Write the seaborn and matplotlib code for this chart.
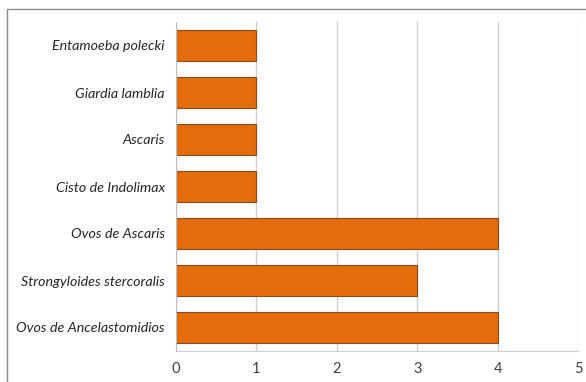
import matplotlib
matplotlib.use("Agg")
import matplotlib.pyplot as plt
import seaborn as sns
import numpy as np
from matplotlib.patches import Rectangle

# Parasitas encontrados (de cima para baixo)
categorias = ["Entamoeba polecki", "Giardia lamblia", "Ascaris", "Cisto de Indolimax",
              "Ovos de Ascaris", "Strongyloides stercoralis", "Ovos de Ancelastomidios"]
valores = [1, 1, 1, 1, 4, 3, 4]
ticks_x = [0, 1, 2, 3, 4, 5]

sns.set_style("white")
plt.rcParams['font.family'] = ['Lato', 'DejaVu Sans']

fig = plt.figure(figsize=(5.86, 3.82), dpi=100)
ax = fig.add_axes([176/586, 1 - 351/382, 402/586, 329/382])

sns.barplot(x=valores, y=categorias, orient='h', color='#E46C0A', saturation=1,
            edgecolor='#8A4A1A', linewidth=0.8, width=0.66, ax=ax)

ax.set_xlim(0, 5)
ax.set_ylim(6.5, -0.5)
ax.set_xticks(ticks_x)
ax.set_xticklabels([str(t) for t in ticks_x], fontsize=10.5, color='#404040')
ax.set_yticks(range(len(categorias)))
ax.set_yticklabels(categorias, fontsize=10.3, style='italic', color='#262626')
ax.tick_params(axis='y', which='major', length=0, pad=8)
ax.set_yticks(np.arange(-0.5, len(categorias), 1), minor=True)
ax.tick_params(axis='y', which='minor', length=4, color='#BFBFBF', width=1)
ax.tick_params(axis='x', length=4, color='#D0D0D0', width=1, pad=4)

ax.grid(axis='x', color='#D0D0D0', linewidth=1)
ax.set_axisbelow(True)
for s in ['top', 'right']:
    ax.spines[s].set_visible(False)
ax.spines['left'].set_color('#BFBFBF')
ax.spines['bottom'].set_color('#D0D0D0')
ax.set_xlabel('')
ax.set_ylabel('')

# moldura do gráfico
fig.add_artist(Rectangle((7/586, -0.1), 1.2, 1 - 8.5/382 + 0.1, transform=fig.transFigure,
                         fill=False, edgecolor='#8C8C8C', linewidth=1))

fig.savefig('out.png', dpi=100)
